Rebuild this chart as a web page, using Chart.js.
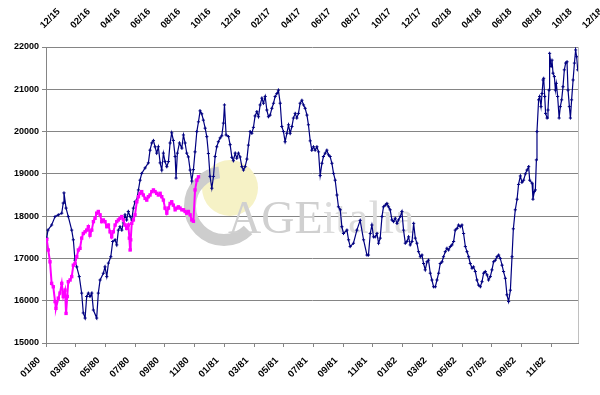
<!DOCTYPE html>
<html>
<head>
<meta charset="utf-8">
<script src="https://cdn.jsdelivr.net/npm/chart.js@4.4.1/dist/chart.umd.min.js"></script>
<style>
  html, body { margin: 0; padding: 0; background: #fff; }
  #wrap { width: 600px; height: 395px; }
</style>
</head>
<body>
<div id="wrap"><canvas id="chart" width="600" height="395"></canvas></div>
<script>
// bottom axis: months counted from 01/80; top axis: months counted from 12/15
const bottomLabels = ['01/80', '03/80', '05/80', '07/80', '09/80', '11/80', '01/81', '03/81', '05/81',
    '07/81', '09/81', '11/81', '01/82', '03/82', '05/82', '07/82', '09/82', '11/82'];
const topLabels = ['12/15', '02/16', '04/16', '06/16', '08/16', '10/16', '12/16', '02/17', '04/17', '06/17',
    '08/17', '10/17', '12/17', '02/18', '04/18', '06/18', '08/18', '10/18', '12/18'];
const yTicks = [15000, 16000, 17000, 18000, 19000, 20000, 21000, 22000];

// serie blu (1980-1982)
const navyMonths = [0.05, 0.13, 0.38, 0.61, 0.83, 1.06, 1.16, 1.21, 1.35, 1.50, 1.73, 1.84, 1.95, 2.07, 2.24, 2.40,
    2.51, 2.63, 2.74, 2.85, 2.96, 3.08, 3.19, 3.41, 3.52, 3.64, 3.86, 3.97, 4.09, 4.20, 4.36, 4.49, 4.65, 4.76,
    4.87, 4.98, 5.10, 5.21, 5.32, 5.43, 5.54, 5.66, 5.77, 5.88, 5.99, 6.11, 6.22, 6.33, 6.44, 6.67, 6.89, 7.00,
    7.12, 7.23, 7.34, 7.45, 7.56, 7.68, 7.79, 7.90, 8.01, 8.13, 8.24, 8.35, 8.46, 8.57, 8.69, 8.75, 8.84, 8.98,
    9.14, 9.25, 9.36, 9.47, 9.58, 9.70, 9.81, 9.92, 10.03, 10.15, 10.26, 10.37, 10.48, 10.59, 10.71, 10.82,
    10.93, 11.04, 11.16, 11.27, 11.38, 11.49, 11.60, 11.72, 11.83, 11.94, 12.01, 12.12, 12.28, 12.39, 12.51,
    12.61, 12.73, 12.84, 12.95, 13.06, 13.18, 13.29, 13.40, 13.52, 13.62, 13.74, 13.85, 13.96, 14.07, 14.19,
    14.30, 14.41, 14.53, 14.63, 14.75, 14.86, 14.97, 15.08, 15.20, 15.31, 15.42, 15.54, 15.64, 15.76, 15.87,
    15.98, 16.09, 16.21, 16.32, 16.43, 16.55, 16.65, 16.77, 16.88, 16.99, 17.10, 17.22, 17.33, 17.44, 17.56,
    17.66, 17.78, 17.89, 18.00, 18.11, 18.23, 18.34, 18.45, 18.57, 18.67, 18.79, 18.90, 19.01, 19.12, 19.24,
    19.35, 19.46, 19.58, 19.68, 19.80, 19.91, 20.02, 20.25, 20.36, 20.47, 20.69, 20.92, 21.14, 21.37, 21.60,
    21.70, 21.82, 21.93, 22.04, 22.15, 22.27, 22.38, 22.49, 22.61, 22.71, 22.83, 22.94, 23.05, 23.16, 23.28,
    23.39, 23.50, 23.62, 23.72, 23.84, 23.95, 24.06, 24.18, 24.29, 24.40, 24.51, 24.63, 24.74, 24.85, 24.96,
    25.07, 25.19, 25.30, 25.41, 25.52, 25.64, 25.74, 25.86, 25.97, 26.08, 26.20, 26.31, 26.42, 26.53, 26.65,
    26.75, 26.87, 26.98, 27.09, 27.21, 27.32, 27.43, 27.54, 27.66, 27.76, 27.88, 27.99, 28.10, 28.22, 28.33,
    28.44, 28.55, 28.67, 28.77, 28.89, 29.00, 29.11, 29.23, 29.34, 29.45, 29.56, 29.68, 29.78, 29.90, 30.01,
    30.12, 30.24, 30.35, 30.46, 30.57, 30.69, 30.79, 30.91, 31.02, 31.13, 31.25, 31.36, 31.45, 31.58, 31.70,
    31.80, 31.92, 32.03, 32.14, 32.26, 32.37, 32.48, 32.55, 32.71, 32.77, 32.86, 32.93, 33.00, 33.04, 33.15,
    33.22, 33.31, 33.38, 33.45, 33.49, 33.56, 33.62, 33.72, 33.78, 33.85, 33.89, 33.99, 34.05, 34.12, 34.21,
    34.28, 34.34, 34.43, 34.53, 34.61, 34.70, 34.79, 34.88, 34.97, 35.06, 35.13, 35.22, 35.29, 35.37, 35.47,
    35.56, 35.64, 35.71, 35.78];
const navyValues = [17480, 17670, 17790, 17990, 18030, 18070, 18310, 18550, 18190, 17990, 17670, 17440, 16960,
    16800, 16570, 16180, 15710, 15590, 16100, 16180, 16100, 16180, 15780, 15590, 16180, 16490, 16650, 16800,
    16570, 16890, 17040, 17400, 17440, 17320, 17670, 17750, 17670, 17840, 18030, 17910, 18110, 17990, 17910,
    18190, 18340, 18380, 18620, 18850, 19010, 19140, 19260, 19560, 19730, 19790, 19640, 19490, 19640, 19260,
    19090, 19490, 19290, 19170, 19290, 19730, 19970, 19790, 19410, 18900, 19490, 19730, 19610, 19920, 19730,
    19490, 19400, 19090, 18830, 19100, 19520, 20000, 20230, 20490, 20420, 20270, 20080, 19880, 19480, 18940,
    18660, 18940, 19410, 19640, 19760, 19850, 19900, 20200, 20630, 19920, 19880, 19690, 19390, 19310, 19490,
    19370, 19490, 19400, 19170, 19090, 19170, 19350, 19680, 20000, 19960, 20100, 20370, 20470, 20350, 20630,
    20790, 20670, 20830, 20510, 20350, 20390, 20550, 20670, 20830, 20900, 20980, 20670, 20120, 20000, 19760,
    19960, 20160, 19960, 20120, 20320, 20430, 20320, 20430, 20670, 20740, 20630, 20550, 20390, 20160, 19780,
    19560, 19640, 19560, 19640, 19520, 18960, 19250, 19410, 19490, 19560, 19450, 19410, 19250, 19010, 18850,
    18500, 18220, 18150, 17750, 17590, 17670, 17440, 17280, 17360, 17670, 17900, 17440, 17080, 17080, 17590,
    17790, 17510, 17510, 17590, 17360, 17480, 17990, 18220, 18260, 18300, 18220, 18150, 17910, 17870, 17950,
    17830, 17910, 17990, 18110, 17670, 17360, 17400, 17510, 17320, 17400, 17830, 17480, 17360, 17160, 17040,
    17080, 16880, 16730, 16920, 16960, 16650, 16490, 16330, 16330, 16490, 16650, 16880, 16920, 17040, 17160,
    17240, 17200, 17280, 17320, 17400, 17670, 17710, 17790, 17750, 17790, 17590, 17280, 17160, 17040, 16880,
    16770, 16800, 16690, 16490, 16370, 16330, 16450, 16650, 16690, 16610, 16490, 16570, 16730, 16920, 16960,
    17040, 17080, 17000, 16840, 16690, 16530, 16140, 15980, 16250, 17040, 17700, 18150, 18400, 18750, 18950,
    18800, 18850, 19000, 19090, 19170, 18850, 18780, 18400, 18580, 18620, 19330, 20000, 20750, 20830, 20590,
    20900, 21220, 21260, 20830, 20430, 20320, 20510, 20980, 21850, 21540, 21690, 21380, 21300, 20980, 21140,
    20830, 20320, 20590, 20750, 21060, 21460, 21620, 21650, 20980, 20590, 20320, 20750, 21220, 21620, 21930,
    21770, 21460];

// serie magenta (2016)
const pinkMonths = [0.05, 0.15, 0.27, 0.38, 0.49, 0.61, 0.67, 0.83, 0.94, 1.06, 1.16, 1.28, 1.35, 1.43, 1.50,
    1.62, 1.73, 1.84, 1.95, 2.07, 2.18, 2.29, 2.40, 2.51, 2.63, 2.74, 2.85, 2.96, 3.08, 3.19, 3.30, 3.41, 3.52,
    3.64, 3.75, 3.86, 3.97, 4.09, 4.20, 4.31, 4.42, 4.53, 4.65, 4.76, 4.87, 4.98, 5.10, 5.21, 5.32, 5.43, 5.54,
    5.61, 5.66, 5.70, 5.77, 5.88, 5.99, 6.11, 6.22, 6.33, 6.44, 6.55, 6.67, 6.78, 6.89, 7.00, 7.12, 7.23, 7.34,
    7.45, 7.56, 7.68, 7.79, 7.90, 8.01, 8.13, 8.24, 8.35, 8.46, 8.57, 8.69, 8.80, 8.91, 9.02, 9.14, 9.25, 9.36,
    9.47, 9.58, 9.70, 9.81, 9.92, 10.03, 10.15, 10.26];
const pinkValues = [17450, 17200, 16920, 16410, 16330, 15980, 15820, 16060, 16180, 16410, 16100, 16250, 15700,
    16100, 16450, 16490, 16570, 16840, 16880, 17040, 17200, 17240, 17480, 17590, 17630, 17670, 17750, 17550,
    17670, 17870, 17950, 18070, 18110, 18030, 17870, 17910, 17870, 17750, 17790, 17630, 17510, 17630, 17790,
    17870, 17910, 17950, 17990, 17910, 17790, 17710, 17790, 17480, 17200, 17440, 17830, 17910, 18030, 18340,
    18460, 18540, 18580, 18500, 18420, 18380, 18460, 18500, 18580, 18620, 18580, 18540, 18500, 18540, 18460,
    18380, 18190, 18070, 18190, 18300, 18340, 18260, 18150, 18190, 18220, 18190, 18150, 18150, 18110, 18070,
    18110, 18030, 17910, 17880, 18620, 18850, 18930];

const gridColor = '#858585';
const tickFont = { family: 'Liberation Sans, Arial, sans-serif', size: 9, weight: 'bold' };
const dateFont = { family: 'Liberation Sans, Arial, sans-serif', size: 9.5, weight: 'bold' };

// logo AGEitalia in filigrana dietro le linee
const watermark = {
    id: 'watermark',
    beforeDatasetsDraw(chart) {
        const ctx = chart.ctx;
        ctx.save();
        ctx.fillStyle = '#f6f2c6';
        ctx.beginPath();
        ctx.arc(230, 188, 28, 0, Math.PI * 2);
        ctx.fill();
        ctx.strokeStyle = '#cdcdcd';
        ctx.lineWidth = 12;
        ctx.beginPath();
        ctx.arc(224, 206, 34, 45 * Math.PI / 180, 262 * Math.PI / 180);
        ctx.stroke();
        ctx.font = '46px "Liberation Serif", serif';
        ctx.fillStyle = '#d0d0d0';
        ctx.fillText('AGE', 228, 233);
        const w = ctx.measureText('AGE').width;
        ctx.fillStyle = '#dcdcdc';
        ctx.fillText('italia', 228 + w, 233);
        ctx.restore();
    },
    afterDraw(chart) {
        const a = chart.chartArea;
        const ctx = chart.ctx;
        ctx.save();
        ctx.strokeStyle = '#c0c0c0';
        ctx.lineWidth = 1;
        ctx.beginPath();
        ctx.moveTo(Math.round(a.right) + 0.5, a.top);
        ctx.lineTo(Math.round(a.right) + 0.5, a.bottom);
        ctx.stroke();
        ctx.restore();
    }
};

// niente padding extra per le etichette ruotate: l'area del grafico resta 46..578
function noSidePadding(scale) {
    scale.paddingLeft = 0;
    scale.paddingRight = 0;
}

const chart = new Chart(document.getElementById('chart').getContext('2d'), {
    type: 'line',
    data: {
        datasets: [{
            label: '2016',
            data: pinkMonths.map((m, i) => ({ x: m, y: pinkValues[i] })),
            borderColor: '#ff00ff',
            backgroundColor: '#ff00ff',
            borderWidth: 2,
            pointStyle: 'rect',
            pointRadius: 2.4,
            pointBorderWidth: 0,
            tension: 0
        }, {
            label: '1980-82',
            data: navyMonths.map((m, i) => ({ x: m, y: navyValues[i] })),
            borderColor: '#000080',
            backgroundColor: '#000080',
            borderWidth: 1.2,
            pointStyle: 'cross',
            pointRadius: 1.6,
            pointBorderWidth: 1,
            tension: 0
        }]
    },
    options: {
        responsive: false,
        animation: false,
        layout: { padding: { left: 0, right: 22, top: 0, bottom: 0 } },
        plugins: { legend: { display: false }, tooltip: { enabled: false } },
        scales: {
            x: {
                type: 'linear',
                position: 'bottom',
                min: 0,
                max: 35.8,
                afterBuildTicks: scale => { scale.ticks = bottomLabels.map((_, i) => ({ value: i * 2 })); },
                afterFit: scale => { scale.height = 52; noSidePadding(scale); },
                grid: { drawOnChartArea: false, color: gridColor, tickLength: 4 },
                border: { color: gridColor },
                ticks: {
                    autoSkip: false,
                    minRotation: 45,
                    maxRotation: 45,
                    padding: 8,
                    labelOffset: -7,
                    color: '#000',
                    font: dateFont,
                    callback: (v, i) => bottomLabels[i]
                }
            },
            xTop: {
                type: 'linear',
                position: 'top',
                min: 0,
                max: 35.34,
                afterBuildTicks: scale => { scale.ticks = topLabels.map((_, i) => ({ value: i * 2 })); },
                afterFit: scale => { scale.height = 47; noSidePadding(scale); },
                grid: { display: false, drawTicks: false },
                border: { display: false },
                ticks: {
                    autoSkip: false,
                    minRotation: 45,
                    maxRotation: 45,
                    padding: 16,
                    labelOffset: 4,
                    color: '#000',
                    font: dateFont,
                    callback: (v, i) => topLabels[i]
                }
            },
            y: {
                min: 15000,
                max: 22000,
                afterBuildTicks: scale => { scale.ticks = yTicks.map(v => ({ value: v })); },
                afterFit: scale => { scale.width = 46; },
                grid: { color: gridColor, tickLength: 4 },
                border: { color: gridColor },
                ticks: { padding: 3, color: '#000', font: tickFont, callback: v => String(v) }
            }
        }
    },
    plugins: [watermark]
});
</script>
</body>
</html>
